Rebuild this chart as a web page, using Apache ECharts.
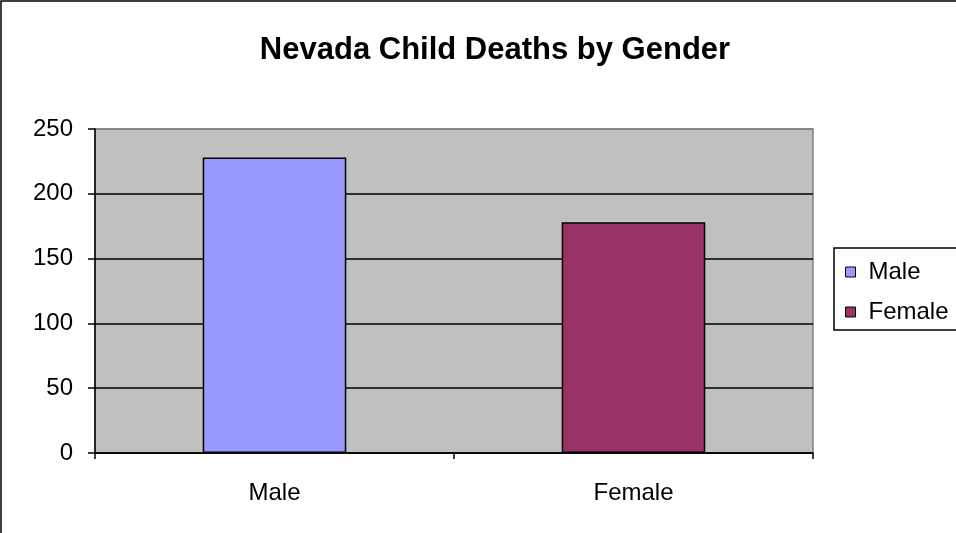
<!DOCTYPE html>
<html>
<head>
<meta charset="utf-8">
<script src="https://cdn.jsdelivr.net/npm/echarts@6/dist/echarts.min.js"></script>
<style>
html,body{margin:0;padding:0;background:#fff;}
#chart{width:956px;height:533px;}
</style>
</head>
<body>
<div id="chart"></div>
<script>
var categories = ['Male', 'Female'];
var deaths = [228, 178];
var yTicks = [0, 50, 100, 150, 200, 250];
var barColors = ['#9999FF', '#993366'];

window.onload = function(){
    var chart = echarts.init(document.getElementById('chart'));
    var font = 'Liberation Sans, Arial, sans-serif';
    // one series per category so the legend gets both names
    var series = categories.map(function(name, i){
        return {
            name: name,
            type: 'bar',
            stack: 'g',
            barWidth: '40%',
            data: categories.map(function(c, j){ return j == i ? deaths[i] : '-'; }),
            itemStyle: {color: barColors[i], borderColor: '#000', borderWidth: 1.5}
        };
    });
    var option = {
        animation: false,
        graphic: [{
            type: 'rect', shape: {x: 1, y: 1, width: 1000, height: 600},
            style: {fill: 'none', stroke: '#000', lineWidth: 1.5}, silent: true
        }],
        title: {
            text: 'Nevada Child Deaths by Gender',
            left: 490, top: 30, textAlign: 'center',
            textStyle: {fontFamily: font, fontSize: 31, fontWeight: 'bold', color: '#000'}
        },
        legend: {
            data: categories,
            orient: 'vertical',
            left: 834, top: 248,
            borderColor: '#000', borderWidth: 1.5,
            padding: [12, 40, 6, 11],
            itemWidth: 10, itemHeight: 10, itemGap: 16,
            icon: 'rect',
            itemStyle: {borderColor: '#000', borderWidth: 1},
            textStyle: {fontFamily: font, fontSize: 24, color: '#000', padding: [0, 0, 0, 8]}
        },
        grid: {
            left: 95, right: 143, top: 129, bottom: 80,
            show: true, backgroundColor: '#C0C0C0', borderColor: '#808080', borderWidth: 1.5
        },
        xAxis: {
            type: 'category',
            data: categories,
            axisLine: {lineStyle: {color: '#000', width: 1.5}},
            axisTick: {show: true, length: 6, lineStyle: {color: '#000', width: 1.5}},
            axisLabel: {fontFamily: font, fontSize: 24, color: '#000', margin: 28}
        },
        yAxis: {
            type: 'value',
            min: yTicks[0], max: yTicks[yTicks.length - 1], interval: 50,
            axisLine: {show: true, lineStyle: {color: '#000', width: 1.5}},
            axisTick: {show: true, length: 7, lineStyle: {color: '#000', width: 1.5}},
            axisLabel: {fontFamily: font, fontSize: 24, color: '#000', margin: 22},
            splitLine: {lineStyle: {color: ['#000', '#000', '#000', '#000', '#000', '#808080'], width: 1.5}}
        },
        series: series
    };
    chart.setOption(option);
};
</script>
</body>
</html>
